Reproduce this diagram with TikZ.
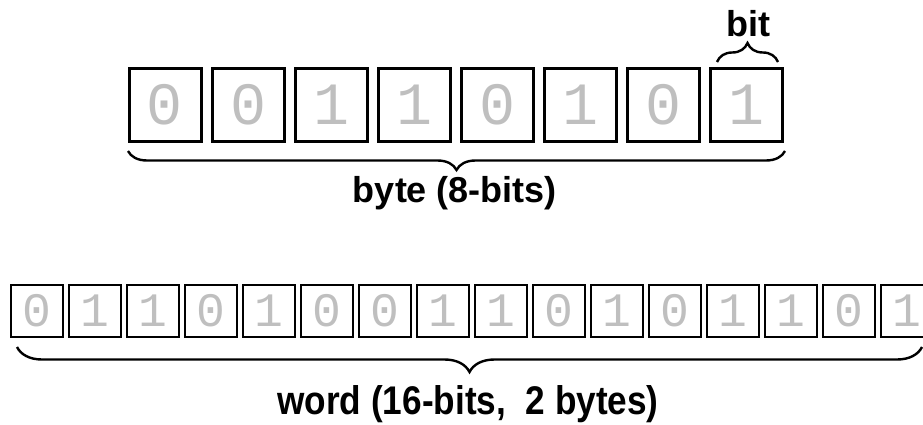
\documentclass[tikz,border=0pt]{standalone}
\usepackage{fontspec}
\setmainfont{Liberation Sans}
\newfontfamily\digitfont{Liberation Mono}
\usetikzlibrary{decorations.pathreplacing}
\begin{document}
\begin{tikzpicture}[x=1pt,y=-1pt,
  bytebox/.style={draw, line width=3pt, minimum size=72pt, inner sep=0pt,
    text=gray!50, font=\digitfont\fontsize{60}{60}\selectfont},
  wordbox/.style={draw, line width=2.2pt, minimum size=52pt, inner sep=0pt,
    text=gray!50, font=\digitfont\fontsize{48}{48}\selectfont},
  bracket/.style={decorate, line width=2.4pt,
    decoration={brace, amplitude=#1}},
  caption/.style={font=\bfseries\fontsize{36}{36}\selectfont, anchor=base, inner sep=0pt}
]
\useasboundingbox (0,0) rectangle (923,425);

% one byte: eight bit cells
\foreach \d [count=\i] in {0,0,1,1,0,1,0,1}
  \node[bytebox] (t\i) at ({165+83*(\i-1)},105) {\d};

% one word: sixteen bit cells
\foreach \d [count=\i] in {0,1,1,0,1,0,0,1,1,0,1,0,1,1,0,1}
  \node[wordbox] (w\i) at ({37+58*(\i-1)},311) {\d};

% brace over the last bit
\coordinate (bitL) at (717,62);
\coordinate (bitR) at (778,62);
\draw[bracket=19] (bitL) -- (bitR);
\node[caption] (bit) at (748,37) {bit};

% brace under the byte
\coordinate (byteL) at (128,151);
\coordinate (byteR) at (785,151);
\draw[bracket=19, decoration={mirror}] (byteL) -- (byteR);
\node[caption] (byte) at (455,202) {byte (8-bits)};

% brace under the word
\coordinate (wordL) at (17,347);
\coordinate (wordR) at (922,347);
\draw[bracket=25, decoration={mirror}] (wordL) -- (wordR);
\node[caption, font=\bfseries\fontsize{40}{40}\selectfont, xscale=0.88]
  (word) at (468,414) {word (16-bits,\ \ 2 bytes)};
\end{tikzpicture}
\end{document}
